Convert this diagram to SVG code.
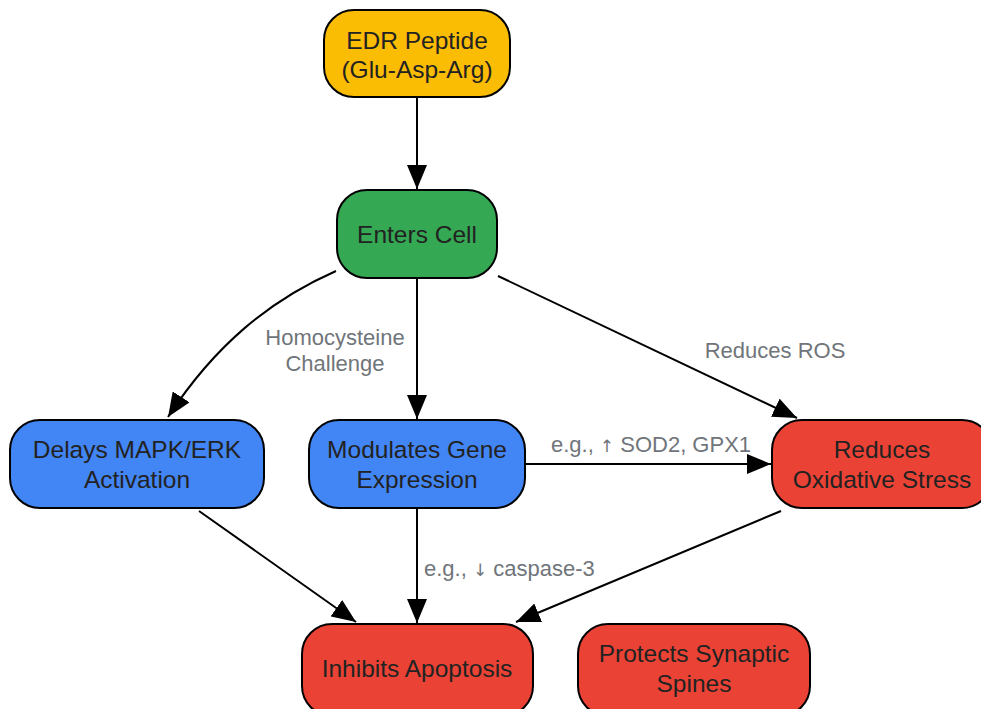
<svg xmlns="http://www.w3.org/2000/svg" width="981" height="709" viewBox="0 0 981 709">
<style>
.n{stroke:#000;stroke-width:2}
.t{font-family:"Liberation Sans",Arial,sans-serif;font-size:24.5px;fill:#222;text-anchor:middle}
.l{font-family:"Liberation Sans",Arial,sans-serif;font-size:22px;fill:#70757a;text-anchor:middle}
.ar{font-family:"DejaVu Sans",sans-serif;font-size:17px}
.e{fill:none;stroke:#000;stroke-width:2}
</style>
<defs>
<marker id="a" viewBox="0 0 24 20" refX="24" refY="10" markerWidth="24" markerHeight="20" markerUnits="userSpaceOnUse" orient="auto">
<path d="M0,0 L24,10 L0,20 z" fill="#000"/>
</marker>
</defs>
<rect width="981" height="709" fill="#fff"/>
<g id="edges">
<line class="e" x1="417" y1="98" x2="417" y2="189" marker-end="url(#a)"/>
<path class="e" d="M336,271 C270,300 215,345 168,417" marker-end="url(#a)"/>
<line class="e" x1="417" y1="279" x2="417" y2="419" marker-end="url(#a)"/>
<line class="e" x1="498" y1="276" x2="797" y2="418" marker-end="url(#a)"/>
<line class="e" x1="526" y1="464" x2="771" y2="464" marker-end="url(#a)"/>
<line class="e" x1="199" y1="511" x2="356" y2="622" marker-end="url(#a)"/>
<line class="e" x1="417" y1="509" x2="417" y2="623" marker-end="url(#a)"/>
<line class="e" x1="781" y1="511" x2="516" y2="622" marker-end="url(#a)"/>
<text class="l" x="335" y="345">Homocysteine</text>
<text class="l" x="335" y="371">Challenge</text>
<text class="l" x="775" y="358">Reduces ROS</text>
<text class="l" x="651" y="452">e.g., <tspan class="ar">↑</tspan> SOD2, GPX1</text>
<text class="l" x="424" y="576" style="text-anchor:start">e.g., <tspan class="ar">↓</tspan> caspase-3</text>
</g>
<g id="edr">
<rect class="n" x="324" y="10" width="186" height="87" rx="30" fill="#FBBC04"/>
<text class="t" x="417" y="49">EDR Peptide</text>
<text class="t" x="417" y="78">(Glu-Asp-Arg)</text>
</g>
<g id="enters">
<rect class="n" x="337" y="190" width="160" height="88" rx="30" fill="#34A853"/>
<text class="t" x="417" y="243">Enters Cell</text>
</g>
<g id="delays">
<rect class="n" x="10" y="420" width="254" height="88" rx="30" fill="#4285F4"/>
<text class="t" x="137" y="458">Delays MAPK/ERK</text>
<text class="t" x="137" y="488">Activation</text>
</g>
<g id="modulates">
<rect class="n" x="309" y="420" width="216" height="88" rx="30" fill="#4285F4"/>
<text class="t" x="417" y="458">Modulates Gene</text>
<text class="t" x="417" y="488">Expression</text>
</g>
<g id="reduces">
<rect class="n" x="772" y="420" width="220" height="88" rx="30" fill="#EA4335"/>
<text class="t" x="882" y="458">Reduces</text>
<text class="t" x="882" y="488">Oxidative Stress</text>
</g>
<g id="inhibits">
<rect class="n" x="302" y="624" width="231" height="92" rx="30" fill="#EA4335"/>
<text class="t" x="417" y="677">Inhibits Apoptosis</text>
</g>
<g id="protects">
<rect class="n" x="578" y="624" width="232" height="92" rx="30" fill="#EA4335"/>
<text class="t" x="694" y="662">Protects Synaptic</text>
<text class="t" x="694" y="692">Spines</text>
</g>
</svg>
